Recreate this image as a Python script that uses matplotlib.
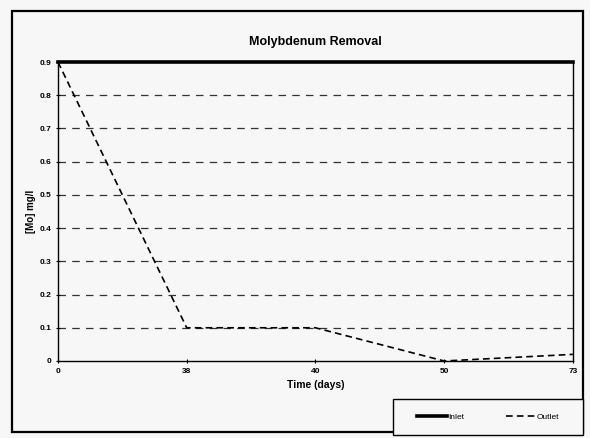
import matplotlib
matplotlib.use("Agg")
import matplotlib.pyplot as plt
from matplotlib.patches import Rectangle

# data
days = ["0", "38", "40", "50", "73"]
inlet = [0.9, 0.9, 0.9, 0.9, 0.9]
outlet = [0.9, 0.1, 0.1, 0.0, 0.02]
yticks = [0, 0.1, 0.2, 0.3, 0.4, 0.5, 0.6, 0.7, 0.8, 0.9]

plt.rcParams['font.family'] = ['Liberation Sans', 'DejaVu Sans']

fig = plt.figure(figsize=(5.9, 4.38), dpi=100)
fig.patch.set_facecolor("#f7f7f7")
ax = fig.add_axes([0.0983, 0.1758, 0.8727, 0.6826])
ax.set_facecolor("#f7f7f7")

# outer chart frame
fig.patches.append(Rectangle((12 / 590, 1 - 432 / 438), 571 / 590, 421 / 438,
                             transform=fig.transFigure, fill=False,
                             edgecolor="black", linewidth=1.6))

x = list(range(len(days)))
for y in yticks[1:-1]:
    ax.axhline(y, color="#333333", linestyle=(0, (6, 5)), linewidth=0.9, zorder=1)

ax.plot(x, inlet, color="black", linewidth=2.6, label="Inlet", zorder=4, clip_on=False)
ax.plot(x, outlet, color="black", linewidth=1.2, linestyle=(0, (4, 2.5)), label="Outlet",
        zorder=3, clip_on=False)

ax.set_xlim(0, len(days) - 1)
ax.set_ylim(0, 0.9)
ax.set_xticks(x)
ax.set_xticklabels(days)
ax.set_yticks(yticks)
ax.set_yticklabels(["0"] + [f"{v:.1f}" for v in yticks[1:]])
ax.tick_params(axis="both", labelsize=6, length=3, direction="inout", width=0.8)
for lbl in ax.get_xticklabels() + ax.get_yticklabels():
    lbl.set_fontweight("bold")

for side in ["left", "bottom", "right"]:
    ax.spines[side].set_linewidth(1.0)
ax.spines["top"].set_visible(False)

ax.set_title("Molybdenum Removal", fontsize=9, fontweight="bold", pad=12)
ax.set_xlabel("Time (days)", fontsize=7.5, fontweight="bold", labelpad=4)
ax.set_ylabel("[Mo] mg/l", fontsize=7, fontweight="bold", labelpad=2)

# legend box
fig.patches.append(Rectangle((393 / 590, 1 - 435 / 438), 190 / 590, 36 / 438,
                             transform=fig.transFigure, facecolor="#f7f7f7",
                             edgecolor="black", linewidth=1.0, zorder=5))
leg = fig.legend(loc="center", bbox_to_anchor=(488 / 590, 1 - 417 / 438),
                 ncol=2, fontsize=6, frameon=False, handlelength=3.6,
                 handletextpad=0.1, columnspacing=5)
leg.set_zorder(6)

fig.savefig("out.png", dpi=100, facecolor=fig.get_facecolor())
